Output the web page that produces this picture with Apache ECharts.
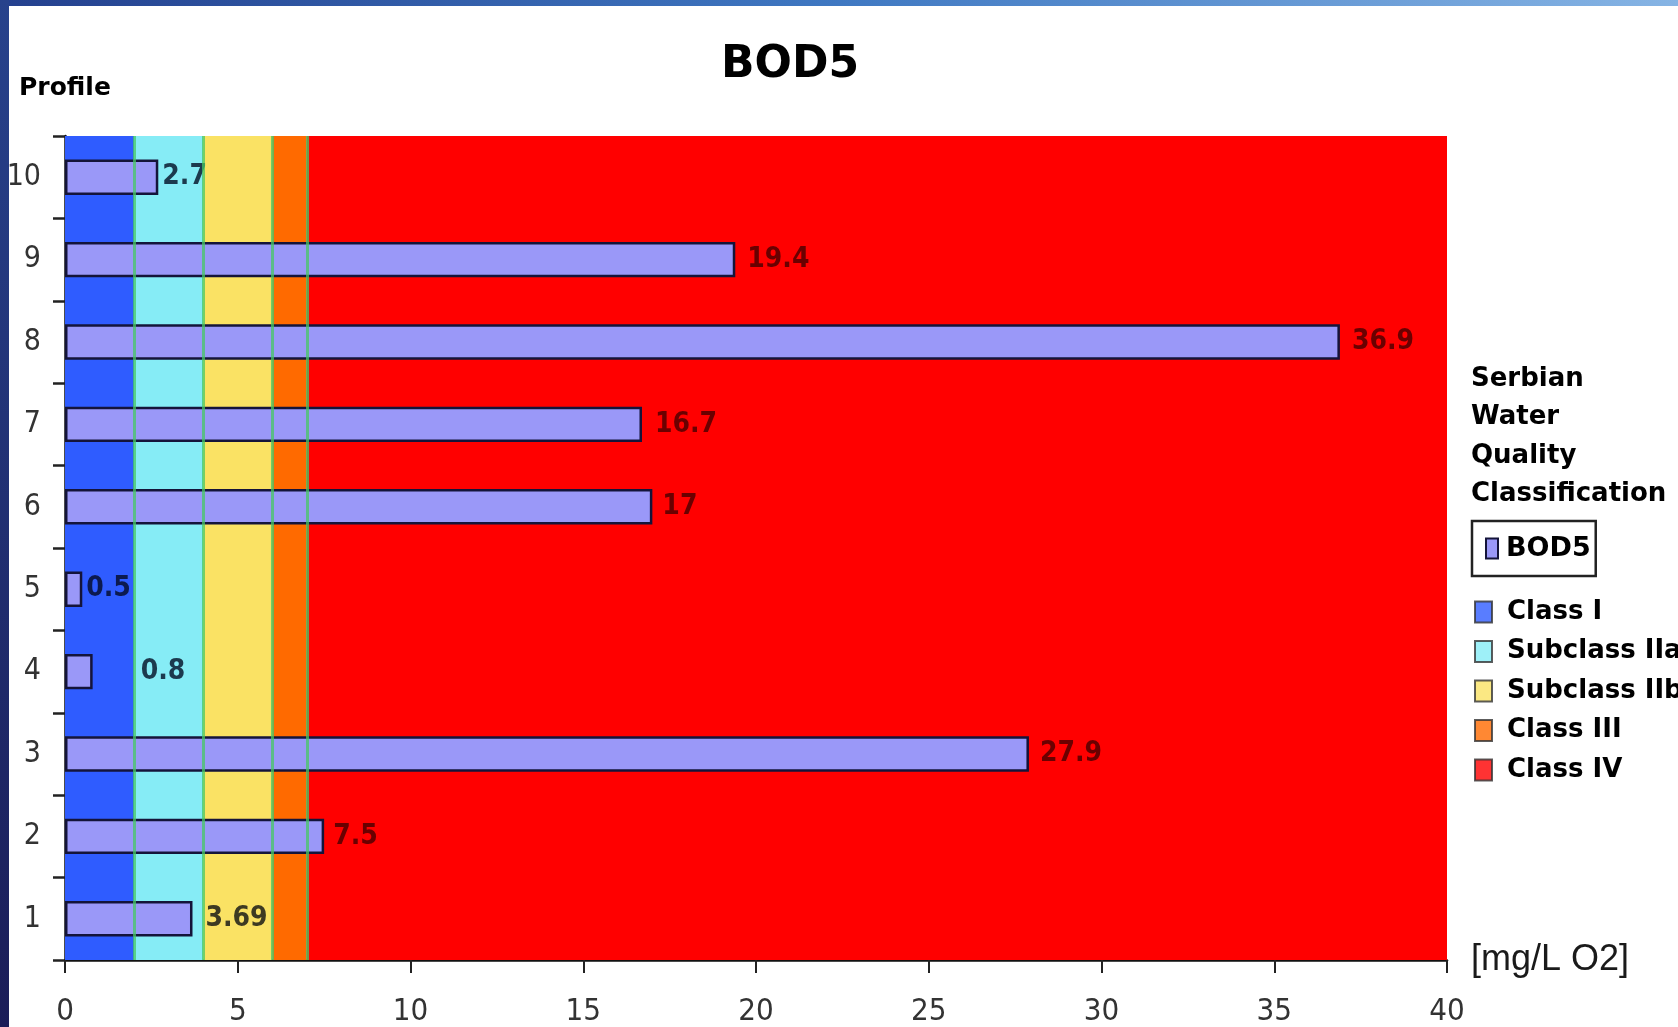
<!DOCTYPE html>
<html>
<head>
<meta charset="utf-8">
<script src="https://cdn.jsdelivr.net/npm/echarts@6/dist/echarts.min.js"></script>
<style>
html,body{margin:0;padding:0;background:#fff;}
#chart{width:1678px;height:1027px;}
</style>
</head>
<body>
<div id="chart"></div>
<script>
// ---- data ----
const categories = ['1', '2', '3', '4', '5', '6', '7', '8', '9', '10'];
const bod5Values = [3.69, 7.5, 27.9, 0.8, 0.5, 17, 16.7, 36.9, 19.4, 2.7];
const xMin = 0, xMax = 40, xInterval = 5;
const classNames = ['Class I', 'Subclass IIa', 'Subclass IIb', 'Class III', 'Class IV'];
const classBounds = [0, 2, 4, 6, 7, 40];
const legendTitleLines = ['Serbian', 'Water', 'Quality', 'Classification'];

// ---- styles ----
const classColors = ['#2f5cff', '#86ecf6', '#fae264', '#ff6a00', '#ff0000'];
const barColor = '#9a98f8';
const labelColors = ['#3d3a22', '#6a0000', '#6a0000', '#1c3a4e', '#0c1a50', '#6a0000', '#6a0000', '#6a0000', '#6a0000', '#1c3a4e'];
const labelDistances = [13, 9, 11, 48, 4, 10, 13, 12, 12, 4];
const narrow = "'Liberation Sans Narrow','DejaVu Sans Condensed',Arial,sans-serif";
const boldFont = "'DejaVu Sans',Verdana,sans-serif";

const chart = echarts.init(document.getElementById('chart'), null, {renderer: 'canvas'});

const barData = bod5Values.map((v, i) => ({
  value: v,
  label: {color: labelColors[i], distance: labelDistances[i]}
}));

const markAreas = classNames.map((n, i) => [
  {xAxis: classBounds[i], itemStyle: {color: classColors[i]}},
  {xAxis: classBounds[i + 1]}
]);
const markLines = classBounds.slice(1, classBounds.length - 1).map(b => ({xAxis: b}));

const classSeries = classNames.map((n, i) => ({
  name: n,
  type: 'scatter',
  data: [],
  itemStyle: {color: classColors[i], borderColor: '#333', borderWidth: 1.5}
}));

const graphics = [
  {type: 'rect', left: 0, top: 0, z: 100, shape: {width: 1678, height: 6},
   style: {fill: new echarts.graphic.LinearGradient(0, 0, 1, 0, [
     {offset: 0, color: '#24408e'}, {offset: 0.5, color: '#3f78c2'}, {offset: 1, color: '#86b4e4'}])}},
  {type: 'rect', left: 0, top: 0, z: 100, shape: {width: 9, height: 1027},
   style: {fill: new echarts.graphic.LinearGradient(0, 0, 0, 1, [
     {offset: 0, color: '#27428c'}, {offset: 1, color: '#1b1d58'}])}},
  {type: 'text', x: 790, y: 66, z: 50,
   style: {text: 'BOD5', font: "bold 44px " + boldFont, fill: '#000', align: 'center', verticalAlign: 'middle'}},
  {type: 'text', x: 19, y: 88, z: 50,
   style: {text: 'Profile', font: "bold 25px " + boldFont, fill: '#000', align: 'left', verticalAlign: 'middle'}}
];
legendTitleLines.forEach((t, i) => {
  graphics.push({type: 'text', x: 1471, y: 379 + i * 38.5, z: 50,
    style: {text: t, font: "bold 26px " + boldFont, fill: '#000', align: 'left', verticalAlign: 'middle'}});
});

const option = {
  backgroundColor: '#ffffff',
  animation: false,
  grid: {left: 65, right: 231, top: 136, bottom: 62, containLabel: false},
  graphic: graphics,
  legend: [
    {
      data: ['BOD5'],
      left: 1472, top: 521,
      icon: 'rect',
      itemWidth: 12, itemHeight: 20, itemGap: 0,
      padding: [14, 5, 14, 13],
      borderColor: '#222', borderWidth: 2.5,
      selectedMode: false,
      textStyle: {fontFamily: boldFont, fontWeight: 'bold', fontSize: 27, color: '#000', padding: [0, 0, 0, 3]}
    },
    {
      data: classNames,
      orient: 'vertical',
      left: 1474, top: 599,
      icon: 'rect',
      itemWidth: 17, itemHeight: 21, itemGap: 13.5,
      padding: 0,
      selectedMode: false,
      textStyle: {fontFamily: boldFont, fontWeight: 'bold', fontSize: 26, color: '#000', padding: [0, 0, 0, 10]}
    }
  ],
  xAxis: {
    type: 'value',
    min: xMin, max: xMax, interval: xInterval,
    name: '[mg/L O2]',
    nameLocation: 'end',
    nameGap: 24,
    nameTextStyle: {fontFamily: 'Liberation Sans, Arial, sans-serif', fontSize: 36, color: '#1a1a1a', verticalAlign: 'middle', padding: [14, 0, 0, 0]},
    axisLine: {show: true, lineStyle: {color: '#111', width: 2.5}},
    axisTick: {show: true, length: 13, inside: false, lineStyle: {color: '#222', width: 2}},
    axisLabel: {fontFamily: narrow, fontSize: 31, color: '#333', margin: 36},
    splitLine: {show: false}
  },
  yAxis: {
    type: 'category',
    data: categories,
    axisLine: {show: true, lineStyle: {color: '#111', width: 2.5}},
    axisTick: {show: true, length: 12, alignWithLabel: false, lineStyle: {color: '#222', width: 2.5}},
    axisLabel: {fontFamily: narrow, fontSize: 30, color: '#333', margin: 24},
    splitLine: {show: false}
  },
  series: [
    {
      name: 'BOD5',
      type: 'bar',
      data: barData,
      barWidth: '43%',
      itemStyle: {color: barColor, borderColor: '#14143a', borderWidth: 2.5},
      label: {
        show: true, position: 'right',
        fontFamily: narrow, fontWeight: 'bold', fontSize: 28
      },
      z: 3,
      markArea: {
        silent: true,
        z: 1,
        data: markAreas
      },
      markLine: {
        silent: true,
        symbol: ['none', 'none'],
        label: {show: false},
        lineStyle: {color: 'rgba(70,200,100,0.75)', width: 3, type: 'solid'},
        z: 5,
        data: markLines
      }
    }
  ].concat(classSeries)
};

chart.setOption(option);
</script>
</body>
</html>
